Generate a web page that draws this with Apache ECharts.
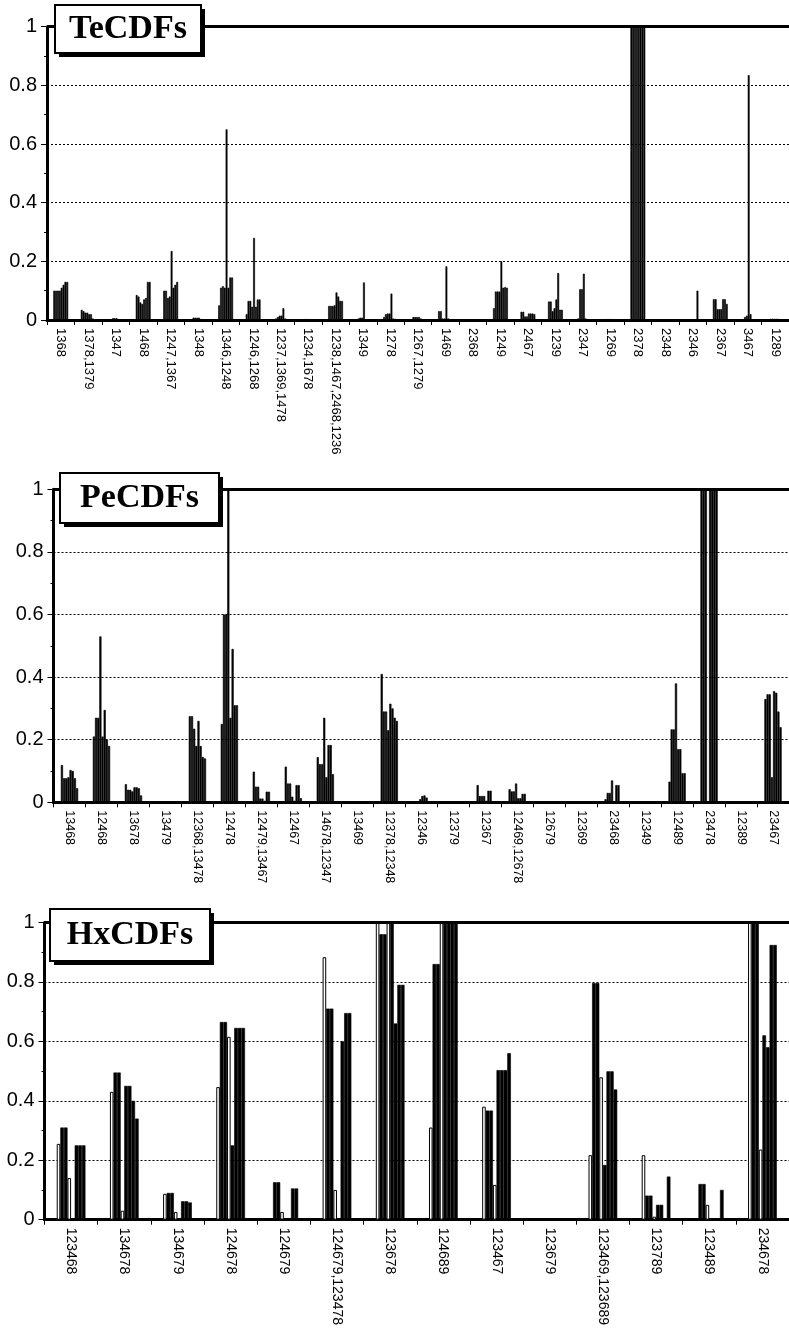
<!DOCTYPE html>
<html><head><meta charset="utf-8">
<script src="https://cdn.jsdelivr.net/npm/echarts@6/dist/echarts.min.js"></script>
<style>html,body{margin:0;padding:0;background:#fff}#c{width:789px;height:1328px}</style>
</head><body><div id="c"></div>
<script>
// ---------- DATA ----------
const panelTitles = ['TeCDFs', 'PeCDFs', 'HxCDFs'];
const yTickValues = [0, 0.2, 0.4, 0.6, 0.8, 1];

const teCategories = ['1368','1378,1379','1347','1468','1247,1367','1348','1346,1248','1246,1268',
  '1237,1369,1478','1234,1678','1238,1467,2468,1236','1349','1278','1267,1279','1469','2368','1249',
  '2467','1239','2347','1269','2378','2348','2346','2367','3467','1289'];
const teValues = [
  [0.10,0.10,0.10,0.10,0.11,0.12,0.13,0.13],
  [0.035,0.03,0.025,0.025,0.02,0.02,0.005,0],
  [0,0,0.006,0.006,0.006,0,0,0],
  [0.085,0.08,0.06,0.055,0.07,0.075,0.13,0.13],
  [0.10,0.10,0.075,0.08,0.235,0.11,0.12,0.13],
  [0,0.008,0.008,0.008,0.008,0,0,0],
  [0.05,0.11,0.115,0.11,0.65,0.11,0.145,0.145],
  [0.02,0.065,0.065,0.045,0.28,0.045,0.07,0.07],
  [0,0.005,0.01,0.015,0.015,0.04,0.005,0],
  [0,0,0.003,0.003,0.003,0,0,0],
  [0.048,0.048,0.048,0.05,0.094,0.08,0.065,0.065],
  [0,0.005,0.008,0.008,0.128,0,0,0],
  [0.01,0.02,0.022,0.022,0.09,0.005,0.004,0],
  [0,0.01,0.01,0.01,0.01,0.005,0,0],
  [0.03,0.03,0.005,0.005,0.183,0.005,0,0],
  [0,0,0,0,0,0,0,0],
  [0.04,0.097,0.097,0.097,0.2,0.11,0.112,0.11],
  [0.028,0.028,0.012,0.012,0.022,0.022,0.022,0.02],
  [0.063,0.063,0.03,0.04,0.07,0.16,0.035,0.035],
  [0,0.005,0.105,0.105,0.158,0.005,0,0],
  [0,0.003,0.003,0.003,0.003,0.003,0,0],
  [1,1,1,1,1,1,1,1],
  [0,0,0,0,0,0,0,0],
  [0,0,0,0,0,0,0.1,0],
  [0.071,0.071,0.037,0.037,0.037,0.071,0.071,0.055],
  [0,0,0.01,0.015,0.835,0.02,0,0],
  [0,0.004,0.004,0.004,0.004,0.004,0,0]
];

const peCategories = ['13468','12468','13678','13479','12368,13478','12478','12479,13467','12467',
  '14678,12347','13469','12378,12348','12346','12379','12367','12469,12678','12679','12369','23468',
  '12349','12489','23478','12389','23467'];
const peValues = [
  [0.119,0.077,0.077,0.08,0.103,0.1,0.077,0.045],
  [0.21,0.27,0.27,0.53,0.21,0.295,0.2,0.18],
  [0.058,0.04,0.04,0.035,0.048,0.048,0.045,0.022],
  [0,0,0,0,0,0,0,0],
  [0.275,0.275,0.235,0.18,0.26,0.18,0.145,0.14],
  [0.25,0.6,0.6,1.0,0.27,0.49,0.31,0.31],
  [0.098,0.05,0.05,0.012,0.012,0.005,0.034,0.034],
  [0.114,0.06,0.06,0.018,0.005,0.055,0.055,0.013],
  [0.144,0.122,0.122,0.27,0.08,0.183,0.183,0.09],
  [0,0,0,0,0,0,0,0],
  [0.41,0.29,0.29,0.23,0.315,0.3,0.27,0.26],
  [0,0,0,0.01,0.02,0.022,0.015,0],
  [0,0,0,0,0,0,0,0],
  [0.055,0.02,0.02,0.02,0.005,0.037,0.037,0],
  [0.042,0.035,0.035,0.06,0.013,0.013,0.027,0.027],
  [0,0,0,0,0,0,0,0],
  [0,0.002,0.002,0.002,0.002,0,0,0],
  [0.01,0.03,0.03,0.07,0,0.055,0.055,0],
  [0,0,0,0,0,0,0,0],
  [0.066,0.233,0.233,0.38,0.17,0.17,0.093,0.093],
  [1,1,1,0,1,1,1,1],
  [0,0,0,0,0,0,0,0],
  [0.33,0.345,0.345,0.08,0.355,0.35,0.29,0.24]
];

const hxCategories = ['123468','134678','134679','124678','124679','124679,123478','123678','124689',
  '123467','123679','123469,123689','123789','123489','234678'];
const hxValues = [
  [0.255,0.31,0.31,0.14,0,0.25,0.25,0.25],
  [0.43,0.495,0.495,0.03,0.45,0.45,0.40,0.34],
  [0.087,0.09,0.09,0.026,0,0.062,0.062,0.058],
  [0.446,0.665,0.665,0.615,0.25,0.645,0.645,0.645],
  [0,0.126,0.126,0.026,0,0,0.105,0.105],
  [0.883,0.71,0.71,0.10,0,0.60,0.695,0.695],
  [1,0.96,0.96,1,1,0.66,0.79,0.79],
  [0.31,0.86,0.86,1,1,1,1,1],
  [0.38,0.367,0.367,0.117,0.503,0.503,0.503,0.56],
  [0,0,0,0,0,0,0,0],
  [0.217,0.796,0.796,0.479,0.184,0.499,0.499,0.438],
  [0.217,0.081,0.081,0.01,0.05,0.05,0,0.145],
  [0,0.12,0.12,0.05,0,0,0,0.10],
  [1,1,1,0.236,0.62,0.58,0.924,0.924]
];

// fill of the 8 bars inside every group (w = open bar, b = solid bar)
const teFills = ['b','b','b','b','b','b','b','b'];
const peFills = ['b','b','b','b','b','b','b','b'];
const hxFills = ['w','b','b','w','b','b','b','b'];

// ---------- LAYOUT ----------
const panels = [
  {cats: teCategories, vals: teValues, fills: teFills, grid: {left: 47, top: 26.7, width: 743.5, height: 293.3}, labelSize: 13,
   box: {x: 55, y: 5, w: 146, h: 48}},
  {cats: peCategories, vals: peValues, fills: peFills, grid: {left: 53.5, top: 489.3, width: 740.6, height: 313}, labelSize: 12.5,
   box: {x: 60, y: 473, w: 159, h: 50}},
  {cats: hxCategories, vals: hxValues, fills: hxFills, grid: {left: 44.5, top: 922.4, width: 754.6, height: 299.3}, labelSize: 14,
   box: {x: 50, y: 909, w: 160, h: 52}}
];

const grids = [], xAxes = [], yAxes = [], series = [], graphics = [];
panels.forEach((p, i) => {
  grids.push(Object.assign({show: false}, p.grid));
  xAxes.push({
    type: 'category', gridIndex: i, data: p.cats,
    axisLine: {lineStyle: {color: '#000', width: 3}},
    axisTick: {show: true, length: 5, lineStyle: {color: '#000', width: 1}},
    axisLabel: {rotate: -90, interval: 0, fontSize: p.labelSize, fontFamily: 'Liberation Sans, Arial',
      color: '#000', margin: 8, padding: [8, 0, 0, 0]},
    splitLine: {show: false}
  });
  yAxes.push({
    type: 'value', gridIndex: i, min: yTickValues[0], max: yTickValues[yTickValues.length - 1], interval: 0.2,
    axisLine: {show: true, lineStyle: {color: '#000', width: 3}},
    axisTick: {show: true, length: 6, lineStyle: {color: '#000', width: 1}},
    minorTick: {show: true, splitNumber: 2, length: 3, lineStyle: {color: '#000'}},
    axisLabel: {fontSize: 20, fontFamily: 'Liberation Sans, Arial', color: '#000', margin: 10},
    splitLine: {show: true, lineStyle: {color: '#000', type: [2, 2], width: 1}}
  });
  p.fills.forEach((f, s) => {
    const ser = {
      type: 'bar', xAxisIndex: i, yAxisIndex: i, silent: true,
      data: p.vals.map(r => r[s]),
      barGap: '0%', barCategoryGap: '46%',
      itemStyle: f === 'w' ? {color: '#fff', borderColor: '#000', borderWidth: 1}
                           : {color: '#000', borderColor: '#000', borderWidth: 0.6}
    };
    if (s === 0) {
      ser.markLine = {
        silent: true, symbol: 'none', label: {show: false}, animation: false,
        lineStyle: {color: '#000', width: 3, type: 'solid'},
        data: [{yAxis: yTickValues[yTickValues.length - 1]}]
      };
    }
    series.push(ser);
  });
  graphics.push({
    type: 'rect', z: 100, shape: {x: p.box.x + 4, y: p.box.y + 4, width: p.box.w, height: p.box.h},
    style: {fill: '#000'}
  });
  graphics.push({
    type: 'rect', z: 101, shape: {x: p.box.x, y: p.box.y, width: p.box.w, height: p.box.h},
    style: {fill: '#fff', stroke: '#000', lineWidth: 2}
  });
  graphics.push({
    type: 'text', z: 102,
    x: p.box.x + p.box.w / 2, y: p.box.y + p.box.h / 2,
    style: {text: panelTitles[i], font: 'bold 34px "Liberation Serif", "Times New Roman", serif', fill: '#000',
      align: 'center', verticalAlign: 'middle', textAlign: 'center', textVerticalAlign: 'middle'}
  });
});

const chart = echarts.init(document.getElementById('c'), null, {renderer: 'canvas'});
chart.setOption({
  animation: false,
  backgroundColor: '#fff',
  grid: grids, xAxis: xAxes, yAxis: yAxes, series: series,
  graphic: {elements: graphics}
});
</script></body></html>
